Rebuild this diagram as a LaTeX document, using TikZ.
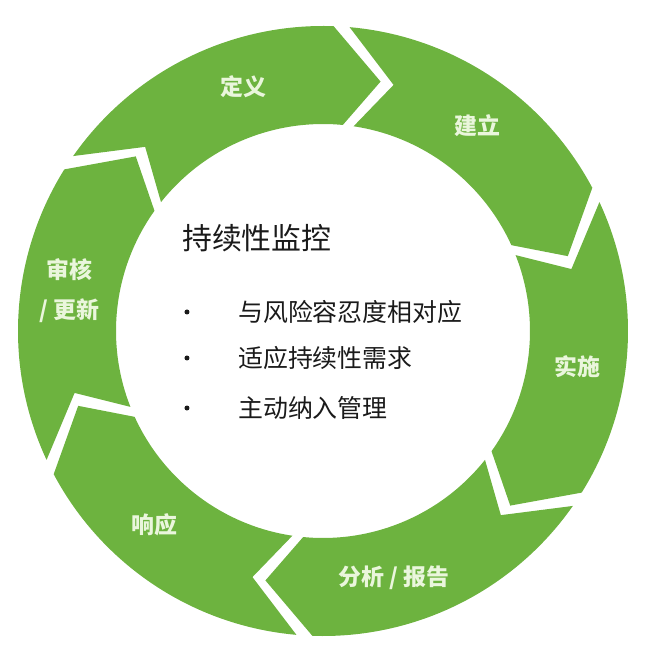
\documentclass[tikz,border=0pt]{standalone}
\usepackage{fontspec}
\setmainfont{Noto Sans CJK SC}
\usetikzlibrary{calc}
\definecolor{leaf}{HTML}{6DB33F}
\definecolor{pale}{HTML}{EAF6DC}
\definecolor{ink}{HTML}{1A1A1A}

\begin{document}
\begin{tikzpicture}[x=1bp,y=1bp,
  seglabel/.style={text=pale,inner sep=0pt,align=center,font=\fontsize{23}{40}\selectfont\bfseries},
  item/.style={text=ink,inner sep=0pt,anchor=west,font=\fontsize{25}{30}\selectfont}]
  \path[use as bounding box] (-323,-323) rectangle (323,331);
  % Six chevron segments; head angle of each one, running clockwise.
  \foreach \hd in {88,28,-32,-92,-152,-212}{
    \pgfmathsetmacro{\tl}{\hd+57}
    \fill[leaf] (\tl:305) arc[start angle=\tl,end angle=\hd,radius=305]
      -- (\hd-11:256) -- (\hd-3.5:207)
      arc[start angle=\hd-3.5,end angle=\tl-3.5,radius=207]
      -- (\tl-11:256) -- cycle;
  }
  \foreach \nm/\ang/\txt in {define/108/定义,build/53/建立,implement/-8/实施,
    report/-74/{分析 / 报告},respond/-131/响应,review/171/{审核\\/ 更新}}{
    \node[seglabel] (\nm) at (\ang:257) {\txt};
  }

  % Centre text
  \node[anchor=west,inner sep=0pt,text=ink,font=\fontsize{30}{36}\selectfont] (title) at (-141,93) {持续性监控};
  \foreach \nm/\yy/\txt in {tolerance/19/与风险容忍度相对应,needs/-27/适应持续性需求,manage/-77/主动纳入管理}{
    \fill[ink] (-136,\yy) circle (2.5);
    \node[item] (\nm) at (-85,\yy) {\txt};
  }
\end{tikzpicture}
\end{document}
